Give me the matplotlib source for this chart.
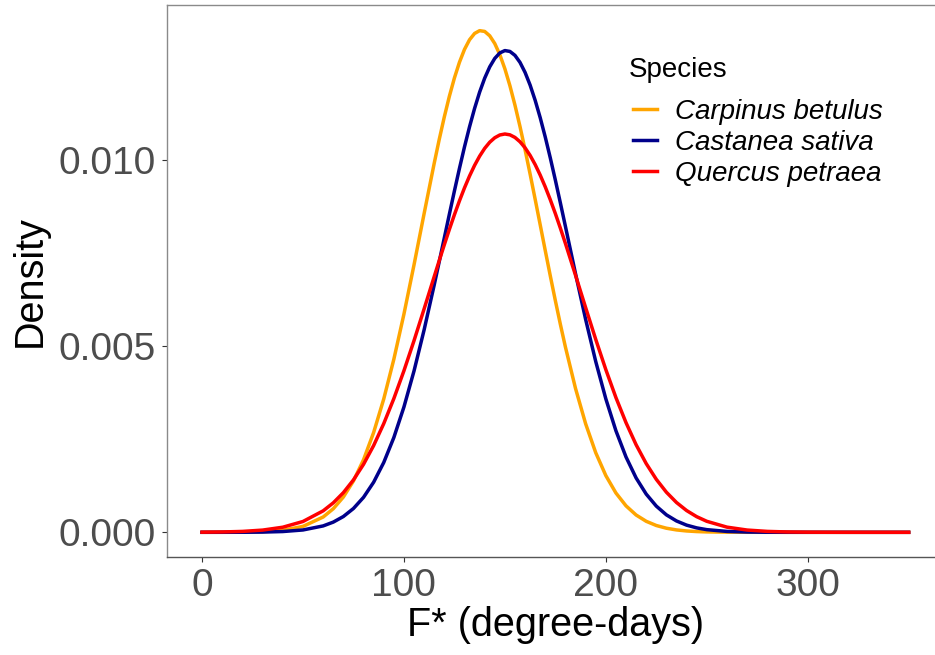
import matplotlib
matplotlib.use("Agg")
import matplotlib.pyplot as plt

plt.rcParams['font.family'] = ['Liberation Sans', 'DejaVu Sans']

x_vals = [0, 10, 20, 30, 40, 50, 60, 65, 70, 75, 80, 85, 90, 95, 100, 105, 110,
          115, 117.5, 120, 122.5, 125, 127.5, 130, 132.5, 135, 137.5, 140, 142.5,
          145, 147.5, 150, 152.5, 155, 157.5, 160, 162.5, 165, 167.5, 170, 172.5,
          175, 177.5, 180, 185, 190, 195, 200, 205, 210, 215, 220, 225, 230, 235,
          240, 245, 250, 260, 270, 280, 290, 300, 310, 320, 330, 340, 350]

carpinus = [0.0000002, 0.0000011, 0.0000046, 0.0000169, 0.0000549, 0.000159,
            0.000411, 0.000633, 0.000948, 0.001380, 0.001950, 0.002681, 0.003580,
            0.004647, 0.005860, 0.007185, 0.008561,
            0.009913, 0.010555, 0.011157, 0.011710, 0.012202, 0.012625, 0.012971,
            0.013230, 0.013399, 0.013474, 0.013453, 0.013336,
            0.013127, 0.012829, 0.012449, 0.011994, 0.011472, 0.010897, 0.010277,
            0.009622, 0.008945, 0.008258, 0.007568, 0.006887,
            0.006223, 0.005583, 0.004973, 0.003862, 0.002915, 0.002138,
            0.001524, 0.001056, 0.000711, 0.000465, 0.000296, 0.000183, 0.000110,
            0.0000641, 0.0000364, 0.0000201, 0.0000108, 0.0000028, 0.0000007,
            0.0, 0.0, 0.0, 0.0, 0.0, 0.0, 0.0, 0.0]

castanea = [0.0, 0.0000004, 0.0000016, 0.0000062, 0.0000207, 0.0000631,
            0.000172, 0.000274, 0.000424, 0.000640, 0.000940, 0.001346, 0.001875,
            0.002545, 0.003366, 0.004334, 0.005438,
            0.006644, 0.007273, 0.007907, 0.008542, 0.009167, 0.009774, 0.010353,
            0.010892, 0.011386, 0.011824, 0.012198, 0.012502,
            0.012729, 0.012876, 0.012939, 0.012916, 0.012810, 0.012621, 0.012353,
            0.012012, 0.011603, 0.011136, 0.010617, 0.010055,
            0.009461, 0.008844, 0.008214, 0.006944, 0.005719, 0.004588,
            0.003585, 0.002728, 0.002023, 0.001460, 0.001027, 0.000704, 0.000469,
            0.000305, 0.000193, 0.000119, 0.0000716, 0.0000239, 0.0000072,
            0.0000019, 0.0000004, 0.0, 0.0, 0.0, 0.0, 0.0, 0.0]

quercus = [0.0000032, 0.0000092, 0.0000243, 0.0000598, 0.000137, 0.000291,
           0.000577, 0.000791, 0.001065, 0.001408, 0.001827, 0.002331, 0.002919,
           0.003591, 0.004339, 0.005148, 0.006001,
           0.006869, 0.007300, 0.007724, 0.008135, 0.008530, 0.008903, 0.009252,
           0.009571, 0.009856, 0.010104, 0.010313, 0.010478,
           0.010598, 0.010672, 0.010698, 0.010676, 0.010606, 0.010489, 0.010328,
           0.010123, 0.009877, 0.009594, 0.009278, 0.008932,
           0.008561, 0.008167, 0.007757, 0.006903, 0.006036, 0.005182,
           0.004370, 0.003619, 0.002945, 0.002352, 0.001846, 0.001423, 0.001077,
           0.000801, 0.000585, 0.000420, 0.000296, 0.000139, 0.0000609,
           0.0000248, 0.0000094, 0.0000033, 0.0000011, 0.0000003, 0.0, 0.0, 0.0]

species = ["Carpinus betulus", "Castanea sativa", "Quercus petraea"]
colors = ["#FFA500", "#00008B", "#FF0000"]
series = [carpinus, castanea, quercus]

x_ticks = [0, 100, 200, 300]
y_ticks = [0.000, 0.005, 0.010]
y_tick_labels = ["0.000", "0.005", "0.010"]

W, H = 935, 655
fig = plt.figure(figsize=(W / 100, H / 100), dpi=100)
left_px, right_px, top_px, bottom_px = 166.7, 944.0, 5.0, 557.0
ax = fig.add_axes([left_px / W, 1 - bottom_px / H,
                   (right_px - left_px) / W, (bottom_px - top_px) / H])

for name, col, ys in zip(species, colors, series):
    n = min(len(x_vals), len(ys))
    ax.plot(x_vals[:n], ys[:n], color=col, lw=2.5, label=name)

ax.set_xlim(-17.5, 367.5)
ax.set_ylim(-0.000663, 0.014163)
ax.set_xticks(x_ticks)
ax.set_xticklabels([str(t) for t in x_ticks])
ax.set_yticks(y_ticks)
ax.set_yticklabels(y_tick_labels)
ax.tick_params(axis='both', length=3.6, width=0.8, color='#333333',
               labelsize=28, labelcolor='#4D4D4D', pad=4.3)

for side in ['top', 'right', 'left']:
    ax.spines[side].set_color('#8a8a8a')
    ax.spines[side].set_linewidth(1.0)
ax.spines['bottom'].set_color('#555555')
ax.spines['bottom'].set_linewidth(1.0)

ax.set_xlabel("F* (degree-days)", fontsize=28.5, color='black')
ax.set_ylabel("Density", fontsize=28.5, color='black')
ax.xaxis.set_label_coords(0.5, -(605.5 - bottom_px) / (bottom_px - top_px))
ax.yaxis.set_label_coords(-(left_px - 49.0) / (right_px - left_px), 0.5)

leg = ax.legend(loc='upper left', bbox_to_anchor=(633 / W, 1 - 99 / H),
                bbox_transform=fig.transFigure, frameon=False,
                prop={'family': 'Liberation Sans', 'style': 'italic', 'size': 20},
                handlelength=0.86, handletextpad=0.65, labelspacing=0.18,
                borderpad=0, borderaxespad=0)
for line in leg.get_lines():
    line.set_linewidth(2.5)

fig.text(629 / W, 1 - 77 / H, "Species", fontsize=20, ha='left', va='baseline')

fig.savefig("out.png", dpi=100)
